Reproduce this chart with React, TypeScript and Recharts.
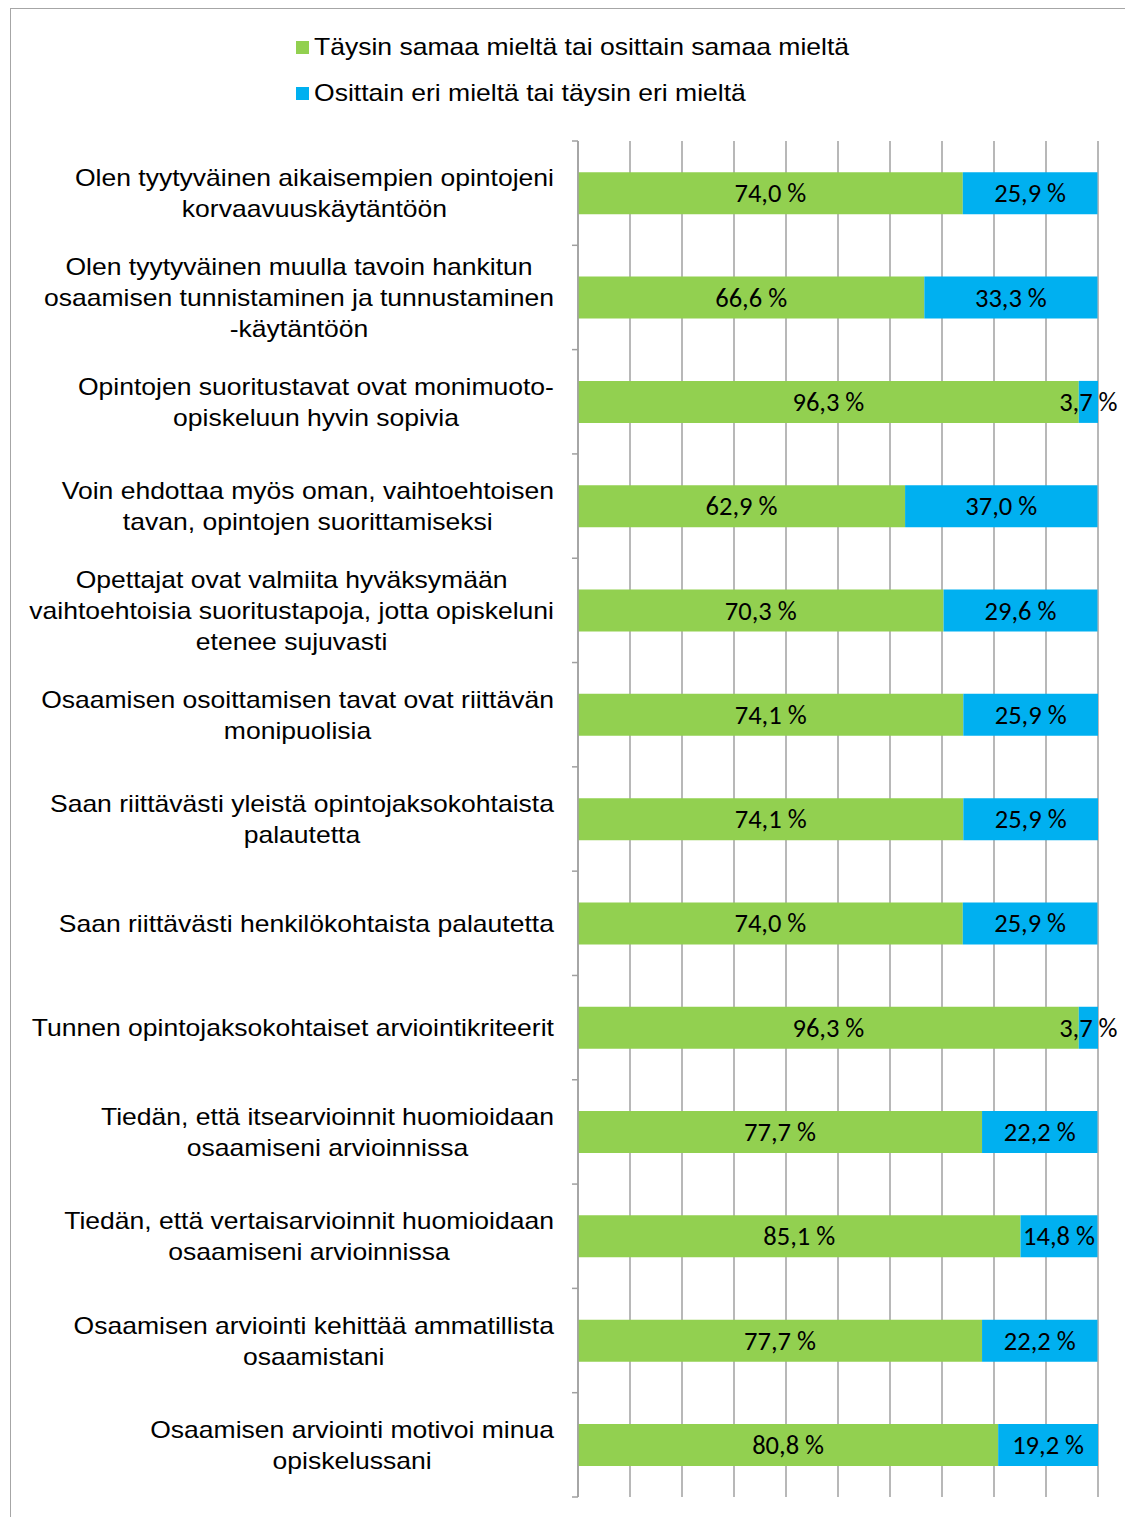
import React from 'react';
import { BarChart, Bar, XAxis, YAxis, CartesianGrid, LabelList } from 'recharts';

const LABELS: string[][] = [
  ['Olen tyytyväinen aikaisempien opintojeni', 'korvaavuuskäytäntöön'],
  ['Olen tyytyväinen muulla tavoin hankitun', 'osaamisen tunnistaminen ja tunnustaminen', '-käytäntöön'],
  ['Opintojen suoritustavat ovat monimuoto-', 'opiskeluun hyvin sopivia'],
  ['Voin ehdottaa myös oman, vaihtoehtoisen', 'tavan, opintojen suorittamiseksi'],
  ['Opettajat ovat valmiita hyväksymään', 'vaihtoehtoisia suoritustapoja, jotta opiskeluni', 'etenee sujuvasti'],
  ['Osaamisen osoittamisen tavat ovat riittävän', 'monipuolisia'],
  ['Saan riittävästi yleistä opintojaksokohtaista', 'palautetta'],
  ['Saan riittävästi henkilökohtaista palautetta'],
  ['Tunnen opintojaksokohtaiset arviointikriteerit'],
  ['Tiedän, että itsearvioinnit huomioidaan', 'osaamiseni arvioinnissa'],
  ['Tiedän, että vertaisarvioinnit huomioidaan', 'osaamiseni arvioinnissa'],
  ['Osaamisen arviointi kehittää ammatillista', 'osaamistani'],
  ['Osaamisen arviointi motivoi minua', 'opiskelussani'],
];

const AGREE = [74.0, 66.6, 96.3, 62.9, 70.3, 74.1, 74.1, 74.0, 96.3, 77.7, 85.1, 77.7, 80.8];
const DISAGREE = [25.9, 33.3, 3.7, 37.0, 29.6, 25.9, 25.9, 25.9, 3.7, 22.2, 14.8, 22.2, 19.2];

const X_TICKS = [0, 10, 20, 30, 40, 50, 60, 70, 80, 90, 100];

const SERIES = [
  { key: 'agree', name: 'Täysin samaa mieltä tai osittain samaa mieltä', color: '#92D050' },
  { key: 'disagree', name: 'Osittain eri mieltä tai täysin eri mieltä', color: '#00B0F0' },
];

const data = LABELS.map((lines, i) => ({
  name: lines.join('|'),
  agree: AGREE[i],
  disagree: DISAGREE[i],
}));

const LABEL_FONT = '"Liberation Sans", Arial, sans-serif';
const LABEL_SIZE = 24;
const STRETCH = 1.105; // reference text is a bit wider than plain Arial
const LINE_H = 31;
const GRID = '#a0a0a0';

let ctx: CanvasRenderingContext2D | null = null;
function textWidth(s: string) {
  if (!ctx) ctx = document.createElement('canvas').getContext('2d');
  if (!ctx) return s.length * 11;
  ctx.font = `${LABEL_SIZE}px ${LABEL_FONT}`;
  return ctx.measureText(s).width * STRETCH;
}

const fmtPct = (v: number) => `${v.toFixed(1).replace('.', ',')} %`;

function CategoryTick(props: any) {
  const { x, y, payload, index, visibleTicksCount } = props;
  const lines: string[] = String(payload.value).split('|');
  const half = payload.offset ?? 52;
  const w = Math.max(...lines.map(textWidth));
  const cx = x - 24 - w / 2;
  const y0 = y - ((lines.length - 1) * LINE_H) / 2;
  const last = index === (visibleTicksCount ?? LABELS.length) - 1;
  return (
    <g>
      <line x1={x - 6} x2={x} y1={y - half} y2={y - half} stroke={GRID} strokeWidth={1.5} />
      {last && <line x1={x - 6} x2={x} y1={y + half} y2={y + half} stroke={GRID} strokeWidth={1.5} />}
      {lines.map((l, i) => (
        <g key={i} transform={`translate(${cx},${y0 + i * LINE_H}) scale(${STRETCH},1)`}>
          <text x={0} y={0} textAnchor="middle" dominantBaseline="central" fontFamily={LABEL_FONT} fontSize={LABEL_SIZE} fill="#000">
            {l}
          </text>
        </g>
      ))}
    </g>
  );
}

function ValueLabel(props: any) {
  const { x, y, width, height, value } = props;
  return (
    <text x={x + width / 2} y={y + height / 2} textAnchor="middle" dominantBaseline="central" fontFamily="Carlito, Lato, sans-serif" fontSize={26.5} fill="#000">
      {fmtPct(Number(value))}
    </text>
  );
}

export default function App() {
  return (
    <div style={{ position: 'fixed', left: 0, top: 0, width: 1125, height: 1517, background: '#fff', overflow: 'hidden' }}>
      <div style={{ position: 'absolute', left: 10, top: 8, width: 1125, height: 1517, borderTop: '1.5px solid #a6a6a6', borderLeft: '1.5px solid #a6a6a6' }} />
      <div style={{ position: 'absolute', left: 296, top: 24, fontFamily: LABEL_FONT, fontSize: LABEL_SIZE, color: '#000' }}>
        {SERIES.map((s) => (
          <div key={s.key} style={{ display: 'flex', alignItems: 'center', height: 46, lineHeight: '46px' }}>
            <span style={{ width: 13, height: 13, background: s.color, display: 'inline-block', marginRight: 5 }} />
            <span style={{ display: 'inline-block', transform: `scaleX(${STRETCH})`, transformOrigin: 'left center', whiteSpace: 'nowrap' }}>{s.name}</span>
          </div>
        ))}
      </div>
      <div style={{ position: 'absolute', left: 0, top: 0 }}>
        <BarChart
          width={1125}
          height={1517}
          data={data}
          layout="vertical"
          barCategoryGap="30%"
          margin={{ top: 141, right: 27, bottom: 20, left: 0 }}
        >
          <CartesianGrid horizontal={false} stroke={GRID} strokeWidth={1.5} />
          <XAxis type="number" domain={[0, 100]} ticks={X_TICKS} hide />
          <YAxis
            type="category"
            dataKey="name"
            width={578}
            interval={0}
            tickSize={0}
            tickMargin={0}
            tickLine={false}
            axisLine={{ stroke: GRID, strokeWidth: 1.5 }}
            tick={<CategoryTick />}
          />
          {SERIES.map((s) => (
            <Bar key={s.key} dataKey={s.key} name={s.name} stackId="a" fill={s.color} isAnimationActive={false}>
              <LabelList dataKey={s.key} content={<ValueLabel />} />
            </Bar>
          ))}
        </BarChart>
      </div>
    </div>
  );
}
